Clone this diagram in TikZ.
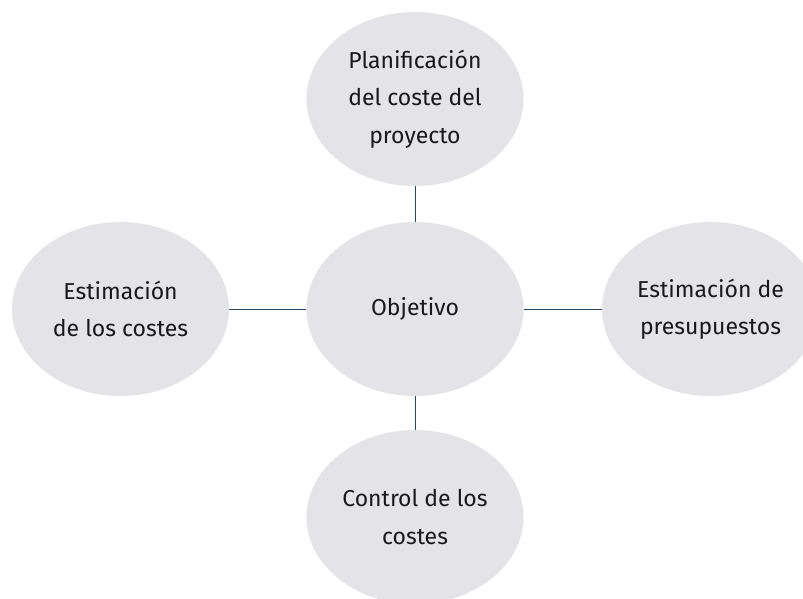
\documentclass[tikz,border=0pt]{standalone}
\usepackage{fontspec}
\setmainfont{Fira Sans}
\usetikzlibrary{shapes.geometric}
\definecolor{blobgray}{HTML}{E4E3E8}
\definecolor{linkblue}{HTML}{1F4A63}
\begin{document}
\begin{tikzpicture}[x=1pt,y=-1pt,
  blob/.style={ellipse,fill=blobgray,minimum width=217pt,minimum height=174pt,inner sep=0pt,
    align=center,font=\fontsize{23}{37.5}\selectfont,text=black!90},
  link/.style={draw=linkblue,line width=1pt}]
\useasboundingbox (0,0) rectangle (803,598);
\node[blob] (goal) at (415,309) {Objetivo};
\node[blob] (plan) at (415,99) {Planificación\\del coste del\\proyecto};
\node[blob] (est) at (120.5,309) {Estimación\\de los costes};
\node[blob] (budget) at (710.5,309) {Estimación de\\presupuestos};
\node[blob] (ctrl) at (415,517) {Control de los\\costes};
\draw[link] (plan) -- (goal);
\draw[link] (goal) -- (ctrl);
\draw[link] (est) -- (goal);
\draw[link] (goal) -- (budget);
\end{tikzpicture}
\end{document}
